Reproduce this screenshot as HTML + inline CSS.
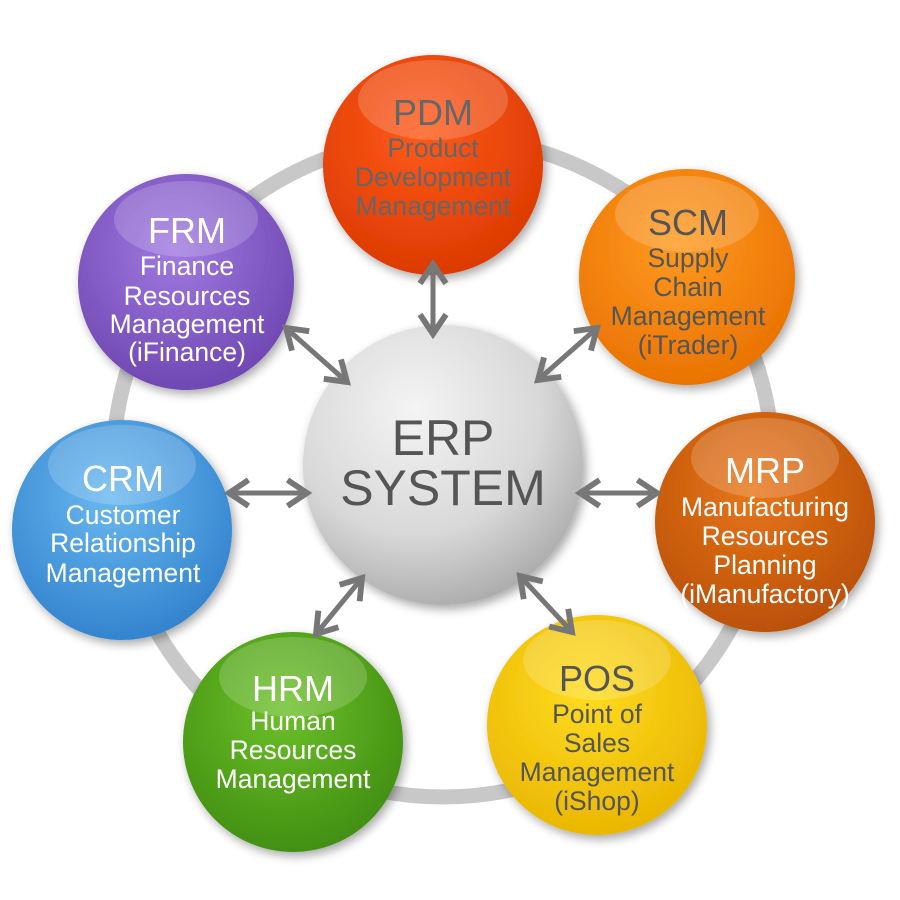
<!DOCTYPE html>
<html><head><meta charset="utf-8"><style>body{margin:0;background:#fff}svg{display:block}</style></head><body>
<svg width="900" height="900" viewBox="0 0 900 900" xmlns="http://www.w3.org/2000/svg" font-family="Liberation Sans, sans-serif">
<defs>
<radialGradient id="gPDM" cx="0.45" cy="0.35" r="0.7"><stop offset="0" stop-color="#ff5a1a"/><stop offset="1" stop-color="#d93800"/></radialGradient>
<radialGradient id="gSCM" cx="0.45" cy="0.35" r="0.7"><stop offset="0" stop-color="#ff9a20"/><stop offset="1" stop-color="#e87000"/></radialGradient>
<radialGradient id="gMRP" cx="0.45" cy="0.35" r="0.7"><stop offset="0" stop-color="#e8761a"/><stop offset="1" stop-color="#b84e05"/></radialGradient>
<radialGradient id="gPOS" cx="0.45" cy="0.35" r="0.7"><stop offset="0" stop-color="#ffdc20"/><stop offset="1" stop-color="#e8b400"/></radialGradient>
<radialGradient id="gHRM" cx="0.45" cy="0.35" r="0.7"><stop offset="0" stop-color="#6cc02a"/><stop offset="1" stop-color="#3f8c10"/></radialGradient>
<radialGradient id="gCRM" cx="0.45" cy="0.35" r="0.7"><stop offset="0" stop-color="#6ab8f0"/><stop offset="1" stop-color="#2f80cc"/></radialGradient>
<radialGradient id="gFRM" cx="0.45" cy="0.35" r="0.7"><stop offset="0" stop-color="#a07ae0"/><stop offset="1" stop-color="#6c44b0"/></radialGradient>
<radialGradient id="gERP" cx="0.4" cy="0.3" r="0.75"><stop offset="0" stop-color="#f4f4f4"/><stop offset="0.6" stop-color="#d8d8d8"/><stop offset="1" stop-color="#a8a8a8"/></radialGradient>
<filter id="sh" x="-20%" y="-20%" width="140%" height="140%"><feGaussianBlur in="SourceAlpha" stdDeviation="5"/><feOffset dx="3" dy="4"/><feComponentTransfer><feFuncA type="linear" slope="0.35"/></feComponentTransfer><feMerge><feMergeNode/><feMergeNode in="SourceGraphic"/></feMerge></filter>
<marker id="ah" viewBox="0 0 10 10" refX="8" refY="5" markerWidth="6.5" markerHeight="6.5" orient="auto-start-reverse"><path d="M2,1 L8,5 L2,9" fill="none" stroke="#777" stroke-width="1.8"/></marker>
</defs>
<circle cx="443" cy="467" r="330" fill="none" stroke="#c8c8c8" stroke-width="15"/>
<g filter="url(#sh)">
<circle cx="443" cy="465" r="140" fill="url(#gERP)"/>
<circle cx="433" cy="165" r="110" fill="url(#gPDM)"/>
<circle cx="687" cy="277" r="108" fill="url(#gSCM)"/>
<circle cx="765" cy="522" r="110" fill="url(#gMRP)"/>
<circle cx="597" cy="725" r="110" fill="url(#gPOS)"/>
<circle cx="293" cy="742" r="110" fill="url(#gHRM)"/>
<circle cx="122" cy="530" r="110" fill="url(#gCRM)"/>
<circle cx="186" cy="282" r="108" fill="url(#gFRM)"/>
</g>
<g fill="#fff" opacity="0.18">
<ellipse cx="433" cy="100" rx="75" ry="40"/><ellipse cx="687" cy="214" rx="72" ry="38"/>
<ellipse cx="765" cy="458" rx="74" ry="40"/><ellipse cx="597" cy="660" rx="74" ry="40"/>
<ellipse cx="293" cy="677" rx="74" ry="40"/><ellipse cx="122" cy="465" rx="74" ry="40"/>
<ellipse cx="186" cy="219" rx="72" ry="38"/>
</g>
<g stroke="#777" stroke-width="5" fill="none" marker-start="url(#ah)" marker-end="url(#ah)">
<line x1="433" y1="264" x2="433" y2="334"/>
<line x1="597" y1="328" x2="538" y2="380"/>
<line x1="580" y1="493" x2="657" y2="493"/>
<line x1="520" y1="576" x2="572" y2="632"/>
<line x1="362" y1="578" x2="316" y2="634"/>
<line x1="229" y1="493" x2="307" y2="493"/>
<line x1="286" y1="328" x2="347" y2="382"/>
</g>
<g text-anchor="middle">
<g fill="#666"><text x="433" y="125" font-size="36">PDM</text><g font-size="26.5"><text x="433" y="157">Product</text><text x="433" y="186">Development</text><text x="433" y="215">Management</text></g></g>
<g fill="#555"><text x="688" y="235" font-size="36">SCM</text><g font-size="26.5"><text x="688" y="267">Supply</text><text x="688" y="296">Chain</text><text x="688" y="325">Management</text><text x="688" y="354">(iTrader)</text></g></g>
<g fill="#fff"><text x="765" y="483" font-size="36">MRP</text><g font-size="26.5"><text x="765" y="516">Manufacturing</text><text x="765" y="545">Resources</text><text x="765" y="574">Planning</text><text x="765" y="603">(iManufactory)</text></g></g>
<g fill="#555"><text x="597" y="691" font-size="36">POS</text><g font-size="26.5"><text x="597" y="723">Point of</text><text x="597" y="752">Sales</text><text x="597" y="781">Management</text><text x="597" y="810">(iShop)</text></g></g>
<g fill="#fff"><text x="293" y="701" font-size="36">HRM</text><g font-size="26.5"><text x="293" y="730">Human</text><text x="293" y="759">Resources</text><text x="293" y="788">Management</text></g></g>
<g fill="#fff"><text x="123" y="491" font-size="36">CRM</text><g font-size="26.5"><text x="123" y="524">Customer</text><text x="123" y="552">Relationship</text><text x="123" y="582">Management</text></g></g>
<g fill="#fff"><text x="187" y="243" font-size="36">FRM</text><g font-size="26.5"><text x="187" y="275">Finance</text><text x="187" y="305">Resources</text><text x="187" y="333">Management</text><text x="187" y="361">(iFinance)</text></g></g>
<g fill="#555" font-size="50"><text x="443" y="455">ERP</text><text x="443" y="505">SYSTEM</text></g>
</g>
</svg>
</body></html>
